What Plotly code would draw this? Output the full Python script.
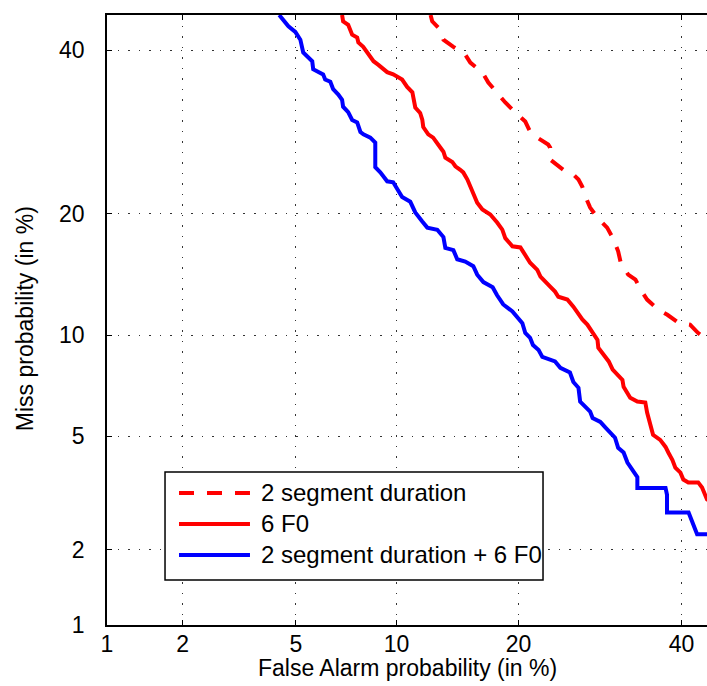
from statistics import NormalDist
import plotly.graph_objects as go

nd = NormalDist()


def probit(vals):
    # DET plot axis: normal deviate of the probability
    return [nd.inv_cdf(v / 100.0) for v in vals]


# tick marks (in %)
tick_vals = [1, 2, 5, 10, 20, 40]
tick_text = ["1", "2", "5", "10", "20", "40"]

# 2 segment duration (dashed red)
dur_fa = [12.33, 12.45, 13.06, 13.3, 14.09, 15.07, 15.5, 16.56, 17.1, 18.03, 18.7, 19.9,
          20.7, 21.2, 21.96, 23.14, 23.36, 23.36, 24.83, 26.0, 26.6, 27.06, 27.43, 28.0,
          28.87, 30.1, 30.8, 31.5, 31.8, 32.8, 33.75, 34.66, 35.3, 36.8, 38.05, 39.56,
          41.2, 42.35, 43.6, 45.0]
dur_miss = [45.0, 44.1, 42.9, 41.5, 40.5, 39.4, 38.3, 36.95, 35.6, 34.0, 32.95, 31.4,
            30.5, 29.25, 28.5, 27.66, 27.3, 25.87, 24.7, 24.15, 23.6, 22.8, 21.75, 20.6,
            19.6, 18.6, 17.65, 16.4, 15.5, 14.4, 14.0, 13.0, 12.46, 11.73, 11.37, 10.83,
            10.7, 10.15, 9.72, 9.4]

# 6 F0 (solid red)
f0_fa = [6.97, 7.02, 7.27, 7.47, 7.73, 7.79, 8.05, 8.27, 8.44, 8.62, 8.9, 9.18, 9.42,
         9.79, 10.05, 10.36, 10.69, 11.04, 11.1, 11.24, 11.58, 11.73, 11.8, 12.16, 12.52,
         12.83, 13.06, 13.3, 13.45, 14.0, 14.25, 14.65, 14.9, 15.25, 15.5, 15.76, 15.93,
         16.1, 16.56, 17.28, 17.92, 18.41, 18.7, 19.0, 19.4, 20.2, 20.7, 21.2, 21.96,
         22.3, 23.36, 23.9, 24.27, 25.3, 26.0, 26.6, 27.06, 27.66, 28.4, 28.9, 29.0,
         29.6, 30.3, 30.8, 31.4, 32.05, 32.2, 32.7, 33.06, 34.0, 35.06, 35.3, 35.7,
         36.1, 37.07, 37.8, 38.2, 38.75, 39.15, 39.86, 40.26, 40.96, 42.35, 42.9, 43.6,
         45.0]
f0_miss = [45.0, 44.1, 43.6, 42.2, 41.8, 41.1, 40.5, 39.8, 39.1, 38.5, 38.0, 37.4, 37.0,
           36.7, 36.3, 36.0, 35.0, 34.3, 33.7, 32.3, 31.6, 30.75, 29.8, 28.9, 28.5,
           27.9, 27.3, 26.8, 26.1, 25.6, 25.1, 24.7, 24.4, 23.6, 22.8, 22.2, 21.75,
           21.1, 20.4, 19.9, 19.1, 18.41, 17.6, 17.3, 16.85, 16.75, 16.1, 15.4, 14.8,
           14.24, 13.44, 13.06, 12.67, 12.46, 11.94, 11.37, 11.05, 10.7, 10.15, 9.72, 9.24,
           8.83, 8.45, 8.0, 7.74, 7.46, 7.12, 6.83, 6.6, 6.42, 6.38, 5.94, 5.51,
           5.05, 4.86, 4.61, 4.41, 4.17, 3.93, 3.78, 3.58, 3.5, 3.5, 3.36, 3.05,
           2.9]

# 2 segment duration + 6 F0 (blue)
comb_fa = [4.41, 4.73, 4.98, 5.17, 5.28, 5.64, 5.68, 6.10, 6.19, 6.42, 6.55, 6.79, 6.97,
           7.02, 7.27, 7.47, 7.73, 7.9, 8.06, 8.44, 8.72, 8.72, 9.01, 9.42, 9.79, 10.1,
           10.36, 10.9, 11.24, 11.73, 12.09, 12.83, 13.3, 13.45, 14.09, 14.4, 15.07, 15.76,
           16.1, 16.65, 17.5, 17.9, 18.5, 19.4, 19.9, 20.4, 20.7, 21.2, 21.5, 22.1, 22.5,
           23.4, 23.9, 24.5, 25.3, 25.6, 26.0, 26.6, 26.8, 27.4, 28.0, 28.3, 29.25, 29.9,
           30.5, 31.1, 31.5, 32.2, 32.7, 33.3, 34.0, 34.0, 37.8, 38.0, 38.0, 41.0, 41.5,
           42.2, 45.0]
comb_miss = [45.0, 43.4, 42.6, 41.5, 39.7, 38.5, 37.4, 36.7, 36.0, 35.7, 34.7, 34.0, 33.3,
             32.4, 31.7, 30.7, 30.4, 29.2, 28.9, 28.5, 27.9, 25.0, 24.4, 23.4, 23.3, 22.5,
             21.7, 21.2, 20.1, 19.2, 18.6, 18.4, 17.7, 16.7, 16.5, 15.7, 15.5, 15.1,
             14.4, 13.8, 13.4, 12.8, 12.1, 11.6, 11.2, 10.8, 10.15, 9.85, 9.4, 9.1, 8.7,
             8.55, 8.45, 8.1, 7.9, 7.85, 7.36, 7.07, 6.42, 6.19, 5.98, 5.71, 5.55, 5.32,
             5.12, 4.94, 4.58, 4.42, 4.09, 3.87, 3.65, 3.35, 3.35, 3.17, 2.74, 2.74, 2.52,
             2.28, 2.28]

labels = ["2 segment duration", "6 F0", "2 segment duration + 6 F0"]

RED = "#ff0000"
BLUE = "#0000ff"
FONT = "Liberation Sans, Arial, sans-serif"

fig = go.Figure()
fig.add_trace(go.Scatter(x=probit(dur_fa), y=probit(dur_miss), mode="lines",
                         line=dict(color=RED, width=4, dash="15px,13px"), name=labels[0]))
fig.add_trace(go.Scatter(x=probit(f0_fa), y=probit(f0_miss), mode="lines",
                         line=dict(color=RED, width=4), name=labels[1]))
fig.add_trace(go.Scatter(x=probit(comb_fa), y=probit(comb_miss), mode="lines",
                         line=dict(color=BLUE, width=4), name=labels[2]))

axis_common = dict(
    tickvals=probit(tick_vals), ticktext=tick_text, automargin=False,
    showgrid=True, gridcolor="#333333", gridwidth=1, griddash="1.5px,9px",
    zeroline=False, showline=True, linecolor="black", linewidth=1.5,
    ticks="inside", ticklen=5, tickcolor="black",
    tickfont=dict(size=23, color="black", family=FONT),
)

fig.update_xaxes(**axis_common, range=probit([1, 43.6]), mirror="ticks", ticklabelstandoff=-2)
fig.update_yaxes(**axis_common, range=probit([1, 45]), mirror=False, ticklabelstandoff=16)

# hand-drawn legend box (MATLAB style, long line samples)
shapes = [dict(type="rect", xref="paper", yref="paper", x0=0.0967, x1=0.7267, y0=0.0738, y1=0.2508,
               line=dict(color="black", width=1.5), fillcolor="white", layer="above")]
annotations = [
    dict(xref="paper", yref="paper", x=0.5, y=-0.0705, text="False Alarm probability (in %)",
         showarrow=False, xanchor="center", yanchor="middle",
         font=dict(size=23, color="black", family=FONT)),
    dict(xref="paper", yref="paper", x=-0.1367, y=0.503, text="Miss probability (in %)",
         showarrow=False, xanchor="center", yanchor="middle", textangle=-90,
         font=dict(size=23, color="black", family=FONT)),
]
rows_y = [0.2164, 0.1656, 0.1148]
legend_styles = [(RED, "15px,13px"), (RED, "solid"), (BLUE, "solid")]
for yy, (col, dsh), lab in zip(rows_y, legend_styles, labels):
    shapes.append(dict(type="line", xref="paper", yref="paper", x0=0.12, x1=0.2383, y0=yy, y1=yy,
                       line=dict(color=col, width=4, dash=dsh), layer="above"))
    annotations.append(dict(xref="paper", yref="paper", x=0.253, y=yy, text=lab, showarrow=False,
                            xanchor="left", yanchor="middle",
                            font=dict(size=24, color="black", family=FONT)))

fig.update_layout(
    width=707, height=686,
    margin=dict(l=107, r=0, t=15, b=61),
    plot_bgcolor="white", paper_bgcolor="white",
    showlegend=False,
    shapes=shapes, annotations=annotations,
    font=dict(family=FONT, color="black"),
)

# page body has a default 8px margin; drop it so the figure fills the window
fig.write_html("out.html", config={"displayModeBar": False},
               post_script="document.body.style.margin='0';")
